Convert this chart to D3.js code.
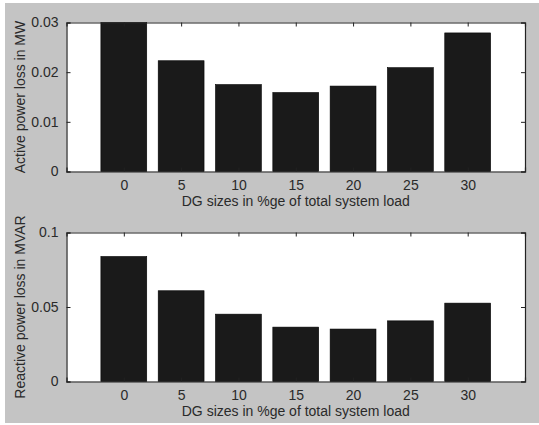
<!DOCTYPE html>
<html>
<head>
<meta charset="utf-8">
<script src="https://cdn.jsdelivr.net/npm/d3@7"></script>
<style>
  body { margin: 0; background: #fff; }
  svg { display: block; }
  text { font-family: "Liberation Sans", Arial, sans-serif; }
</style>
</head>
<body>
<svg id="chart"></svg>
<script>
// DG size (% of total system load)
var dgSizes = [0, 5, 10, 15, 20, 25, 30];
// active power loss, MW
var activeLoss = [0.0300, 0.0223, 0.0175, 0.0159, 0.0172, 0.0209, 0.0279];
// reactive power loss, MVAR
var reactiveLoss = [0.0839, 0.0609, 0.0452, 0.0365, 0.0352, 0.0407, 0.0526];
var activeTicks = [0, 0.01, 0.02, 0.03];
var reactiveTicks = [0, 0.05, 0.1];
var xLabel = "DG sizes in %ge of total system load";

var width = 539, height = 425;

var svg = d3.select("#chart")
  .attr("width", width)
  .attr("height", height);

// grey figure background
svg.append("rect")
  .attr("x", 5).attr("y", 3)
  .attr("width", width - 5).attr("height", 420)
  .attr("fill", "#c4c4c4");

var x = d3.scaleLinear()
  .domain([-5, 35])
  .range([66.5, 525]);

function drawPanel(top, values, ticks, yMax, yLabel, fmt) {
  var bottom = top + 149;
  var y = d3.scaleLinear()
    .domain([0, yMax])
    .range([bottom, top]);

  var g = svg.append("g");

  g.append("rect")
    .attr("x", x.range()[0]).attr("y", top)
    .attr("width", x.range()[1] - x.range()[0])
    .attr("height", bottom - top)
    .attr("fill", "#fff");

  g.selectAll(".bar")
    .data(values)
    .enter()
    .append("rect")
      .classed("bar", true)
      .attr("x", (d, i) => x(dgSizes[i] - 2))
      .attr("width", x(4) - x(0))
      .attr("y", d => y(Math.min(d, yMax)))
      .attr("height", d => bottom - y(Math.min(d, yMax)))
      .attr("fill", "#1a1a1a")
      .attr("stroke", "#000")
      .attr("stroke-width", 0.6);

  // axes, ticks pointing inwards like matlab
  var xb = g.append("g")
    .attr("transform", "translate(0," + bottom + ")")
    .call(d3.axisBottom(x).tickValues(dgSizes).tickSize(-4).tickPadding(9).tickFormat(d3.format("d")));
  var xt = g.append("g")
    .attr("transform", "translate(0," + top + ")")
    .call(d3.axisTop(x).tickValues(dgSizes).tickSize(-4).tickFormat(""));
  var yl = g.append("g")
    .attr("transform", "translate(" + x.range()[0] + ",0)")
    .call(d3.axisLeft(y).tickValues(ticks).tickSize(-4).tickPadding(8).tickFormat(fmt));
  var yr = g.append("g")
    .attr("transform", "translate(" + x.range()[1] + ",0)")
    .call(d3.axisRight(y).tickValues(ticks).tickSize(-4).tickFormat(""));

  [xb, xt, yl, yr].forEach(function(a) {
    a.select(".domain").attr("stroke", "#222").attr("stroke-width", 1.2);
    a.selectAll(".tick line").attr("stroke", "#222");
    a.selectAll(".tick text")
      .attr("fill", "#2a2a2a")
      .style("font-size", "14px")
      .style("font-family", "'Liberation Sans', Arial, sans-serif");
  });

  g.append("text")
    .attr("x", (x.range()[0] + x.range()[1]) / 2)
    .attr("y", bottom + 34)
    .attr("text-anchor", "middle")
    .attr("font-size", "14px")
    .attr("fill", "#2a2a2a")
    .text(xLabel);

  g.append("text")
    .attr("transform", "translate(25," + (top + bottom) / 2 + ") rotate(-90)")
    .attr("text-anchor", "middle")
    .attr("font-size", "14px")
    .attr("fill", "#2a2a2a")
    .text(yLabel);
}

drawPanel(22.5, activeLoss, activeTicks, 0.03, "Active power loss in MW", d => d === 0 ? "0" : d3.format(".2f")(d));
drawPanel(232.5, reactiveLoss, reactiveTicks, 0.1, "Reactive power loss in MVAR", d => d === 0 ? "0" : (d === 0.1 ? "0.1" : "0.05"));
</script>
</body>
</html>
